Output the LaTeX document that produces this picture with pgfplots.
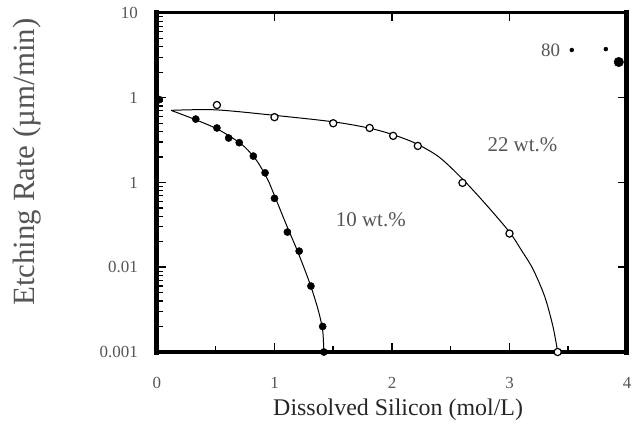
\documentclass[border=0pt]{standalone}
\usepackage{fontspec}
\setmainfont{Liberation Serif}
\usepackage{pgfplots}
\pgfplotsset{compat=1.18}
\definecolor{txtgray}{RGB}{85,85,85}
\begin{document}
\begin{tikzpicture}
\begin{axis}[
  scale only axis, width=470bp, height=339bp,
  xmin=0, xmax=4, ymode=log, ymin=0.001, ymax=10,
  clip=false,
  xtick={0,1,2,3,4},
  ytick={0.001,0.01,0.1,1,10}, yticklabels={0.001,0.01,1,1,10},
  xticklabels={0,1,2,3,4},
  major tick length=0pt, minor tick length=0pt,
  axis line style={draw=none},
  /pgf/number format/assume math mode=true,
  ticklabel style={font=\fontsize{17}{19}\selectfont, text=txtgray, inner sep=0pt},
  xticklabel style={anchor=center, yshift=-31bp},
  yticklabel style={anchor=east, xshift=-19bp},
  xlabel={Dissolved Silicon (mol/L)},
  xlabel style={at={(rel axis cs:0.513,-0.171)}, anchor=center, font=\fontsize{24}{26}\selectfont, text=black!85},
  ylabel={Etching Rate (µm/min)},
  ylabel style={at={(rel axis cs:-0.277,0.56)}, anchor=center, rotate=0, font=\fontsize{31}{33}\selectfont, text=txtgray},
]
% frame
\draw[line width=5bp, line cap=rect] (rel axis cs:0,0) -- (rel axis cs:0,1);
\draw[line width=5bp, line cap=rect] (rel axis cs:1,0) -- (rel axis cs:1,1);
\draw[line width=4bp, line cap=rect] (rel axis cs:0,0) -- (rel axis cs:1,0);
\draw[line width=3bp, line cap=rect] (rel axis cs:0,1) -- (rel axis cs:1,1);
% tick marks (bottom / top)
\draw[line width=1.5bp] (rel axis cs:0.25,0) -- (rel axis cs:0.25,0.027);
\draw[line width=1.5bp] (rel axis cs:0.5,0) -- (rel axis cs:0.5,0.027);
\draw[line width=1.5bp] (rel axis cs:0.75,0) -- (rel axis cs:0.75,0.027);
\draw[line width=1.5bp] (rel axis cs:0.125,0) -- (rel axis cs:0.125,0.019);
\draw[line width=1.5bp] (rel axis cs:0.375,0) -- (rel axis cs:0.375,0.019);
\draw[line width=1.5bp] (rel axis cs:0.625,0) -- (rel axis cs:0.625,0.019);
\draw[line width=1.5bp] (rel axis cs:0.875,0) -- (rel axis cs:0.875,0.019);
\draw[line width=1.5bp] (rel axis cs:0.25,1) -- (rel axis cs:0.25,0.975);
\draw[line width=1.5bp] (rel axis cs:0.5,1) -- (rel axis cs:0.5,0.975);
\draw[line width=1.5bp] (rel axis cs:0.75,1) -- (rel axis cs:0.75,0.975);
% tick marks (left / right majors)
\draw[line width=1.5bp] (rel axis cs:0,0.25) -- (rel axis cs:0.02,0.25);
\draw[line width=1.5bp] (rel axis cs:0,0.5) -- (rel axis cs:0.02,0.5);
\draw[line width=1.5bp] (rel axis cs:0,0.75) -- (rel axis cs:0.02,0.75);
\draw[line width=1.5bp] (rel axis cs:1,0.25) -- (rel axis cs:0.98,0.25);
\draw[line width=1.5bp] (rel axis cs:1,0.5) -- (rel axis cs:0.98,0.5);
\draw[line width=1.5bp] (rel axis cs:1,0.75) -- (rel axis cs:0.98,0.75);
% left minor ticks
\pgfplotsinvokeforeach{0,0.25,0.5,0.75}{
\draw[line width=1.2bp] (rel axis cs:0,#1+0.0753) -- (rel axis cs:0.012,#1+0.0753);
\draw[line width=1.2bp] (rel axis cs:0,#1+0.1193) -- (rel axis cs:0.012,#1+0.1193);
\draw[line width=1.2bp] (rel axis cs:0,#1+0.1505) -- (rel axis cs:0.012,#1+0.1505);
\draw[line width=1.2bp] (rel axis cs:0,#1+0.1748) -- (rel axis cs:0.012,#1+0.1748);
\draw[line width=1.2bp] (rel axis cs:0,#1+0.1945) -- (rel axis cs:0.012,#1+0.1945);
\draw[line width=1.2bp] (rel axis cs:0,#1+0.2113) -- (rel axis cs:0.012,#1+0.2113);
\draw[line width=1.2bp] (rel axis cs:0,#1+0.2258) -- (rel axis cs:0.012,#1+0.2258);
\draw[line width=1.2bp] (rel axis cs:0,#1+0.2386) -- (rel axis cs:0.012,#1+0.2386);}
% fitted curves
\addplot[black, line width=1bp, smooth, tension=0.5] coordinates {
 (0.12,0.71) (0.33,0.55) (0.51,0.43) (0.65,0.33) (0.75,0.26) (0.85,0.18)
 (0.94,0.11) (1.0,0.07) (1.1,0.032) (1.2,0.015) (1.3,0.0065) (1.37,0.0032)
 (1.41,0.0018) (1.42,0.001)};
\addplot[black, line width=1bp, smooth, tension=0.5] coordinates {
 (0.12,0.71) (0.5,0.72) (1.0,0.62) (1.5,0.52) (1.8,0.44) (2.0,0.37) (2.2,0.29)
 (2.4,0.2) (2.6,0.11) (2.8,0.055) (3.0,0.026) (3.1,0.016) (3.2,0.0095)
 (3.3,0.0045) (3.37,0.002) (3.41,0.001)};
% 10 wt% data
\addplot[only marks, mark=*, mark size=3.6bp, black] coordinates {
 (0.02,0.95) (0.33,0.56) (0.51,0.44) (0.61,0.335) (0.70,0.295) (0.82,0.205)
 (0.92,0.13) (1.0,0.065) (1.11,0.026) (1.21,0.0155) (1.31,0.006)
 (1.41,0.002) (1.42,0.001)};
% 22 wt% data
\addplot[only marks, mark=*, mark size=3.6bp, black, fill=white, mark options={line width=1.2bp}] coordinates {
 (0.51,0.82) (1.0,0.59) (1.5,0.50) (1.81,0.44) (2.01,0.355) (2.22,0.27)
 (2.60,0.099) (3.0,0.025) (3.41,0.001)};
% 80 wt% data
\addplot[only marks, mark=*, mark size=2bp, black] coordinates {(3.53,3.66) (3.82,3.75)};
\addplot[only marks, mark=*, mark size=4.8bp, black] coordinates {(3.93,2.64)};
\node[font=\fontsize{19}{21}\selectfont, text=txtgray] at (axis cs:3.35,3.66) {80};
\node[font=\fontsize{21}{23}\selectfont, text=txtgray] at (axis cs:3.11,0.277) {22 wt.\%};
\node[font=\fontsize{21}{23}\selectfont, text=txtgray] at (axis cs:1.82,0.036) {10 wt.\%};
\path[draw=none] (rel axis cs:-0.334,-0.2566) rectangle (rel axis cs:1.0298,1.0383);
\end{axis}
\end{tikzpicture}
\end{document}
